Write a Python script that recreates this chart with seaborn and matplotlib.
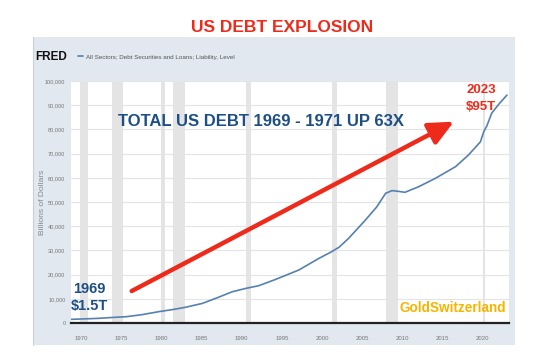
import matplotlib
matplotlib.use("Agg")
import matplotlib.pyplot as plt
import matplotlib.patches as mpatches
import seaborn as sns
import pandas as pd

# ---- data ----
years = [1968.8, 1970.0, 1972.0, 1974.0, 1975.6, 1977.5, 1979.7, 1981.5, 1983.0,
         1985.1, 1987.0, 1988.8, 1990.5, 1992.1, 1994.2, 1997.1, 1999.6, 2001.2,
         2002.1, 2003.3, 2005.4, 2006.8, 2007.9, 2008.7, 2009.5, 2010.3, 2012.0,
         2014.1, 2016.6, 2018.2, 2019.7, 2020.1, 2020.5, 2021.1, 2022.0, 2023.0]
debt = [1530, 1650, 1900, 2300, 2600, 3400, 4700, 5600, 6500,
        8100, 10500, 12900, 14300, 15400, 18000, 21900, 26700, 29500,
        31300, 35000, 42600, 48000, 53600, 54700, 54400, 54000, 56300,
        59800, 64600, 69400, 74900, 79000, 81500, 86700, 90500, 94200]
recession_start = [1969.9, 1973.9, 1980.0, 1981.5, 1990.5, 2001.2, 2007.9, 2020.0]
recession_end = [1970.9, 1975.2, 1980.5, 1982.9, 1991.2, 2001.9, 2009.5, 2020.3]
x_ticks = [1970, 1975, 1980, 1985, 1990, 1995, 2000, 2005, 2010, 2015, 2020]
y_ticks = [0, 10000, 20000, 30000, 40000, 50000, 60000, 70000, 80000, 90000, 100000]
arrow_start = (1976.3, 13200)
arrow_end = (2016.4, 83200)

df = pd.DataFrame({"year": years, "debt": debt})

sns.set_style("white")
plt.rcParams["font.family"] = ["Liberation Sans", "DejaVu Sans"]

W, H = 550, 357
fig = plt.figure(figsize=(5.5, 3.57), dpi=100)
fig.patch.set_facecolor("white")

# FRED panel background
panel = mpatches.Rectangle((33 / W, 1 - 345 / H), (515 - 33) / W, (345 - 37) / H,
                           transform=fig.transFigure, facecolor="#e1e8f0",
                           edgecolor="none", zorder=-5)
fig.patches.append(panel)
fig.add_artist(plt.Line2D([33 / W, 33 / W], [1 - 345 / H, 1 - 37 / H],
                          transform=fig.transFigure, color="#c9d0d8", lw=0.8,
                          zorder=-4))

ax = fig.add_axes([71 / W, 1 - 323 / H, (509 - 71) / W, (323 - 81) / H])
ax.set_zorder(1)
ax.set_facecolor("white")

for s, e in zip(recession_start, recession_end):
    ax.axvspan(s, e, color="#e4e4e4", lw=0, zorder=0.5)

sns.lineplot(data=df, x="year", y="debt", ax=ax, color="#5581b0", lw=1.2, zorder=3)

ax.set_xlim(1968.75, 2023.25)
ax.set_ylim(0, 100000)
ax.set_xticks(x_ticks)
ax.set_yticks(y_ticks)
ax.set_xticklabels([str(t) for t in x_ticks], fontsize=4.3, color="#777777")
ax.set_yticklabels([f"{t:,}" for t in y_ticks], fontsize=4.1, color="#777777")
ax.tick_params(axis="both", length=0)
ax.tick_params(axis="x", pad=9)
ax.tick_params(axis="y", pad=4)
ax.grid(axis="y", color="#e4e4e4", lw=0.8, zorder=0.4)
ax.grid(axis="x", visible=False)
for side in ["top", "right", "left"]:
    ax.spines[side].set_visible(False)
ax.spines["bottom"].set_color("#222222")
ax.spines["bottom"].set_linewidth(1.6)
ax.set_xlabel("")
ax.set_ylabel("Billions of Dollars", fontsize=6, color="#888888")
ax.yaxis.set_label_coords(-0.057, 0.5)

# red arrow
ax.annotate("", xy=arrow_end, xytext=arrow_start,
            arrowprops=dict(arrowstyle="-|>,head_length=0.75,head_width=0.35",
                            color="#ee2a1b", lw=3.2, shrinkA=0, shrinkB=0,
                            mutation_scale=20),
            zorder=5)

def px(x, y):
    return (x / W, 1 - y / H)

# texts
fig.text(*px(282, 27), "US DEBT EXPLOSION", ha="center", va="center",
         fontsize=12.5, fontweight="bold", color="#ee2a1b")
fig.text(*px(35, 57), "FRED", ha="left", va="center", fontsize=8.5,
         fontweight="bold", color="#111111")
fig.add_artist(plt.Line2D([78 / W, 83 / W], [1 - 56 / H, 1 - 56 / H],
                          transform=fig.transFigure, color="#5581b0", lw=1.2))
fig.text(*px(86, 57), "All Sectors; Debt Securities and Loans; Liability, Level",
         ha="left", va="center", fontsize=4.5, color="#555555")
fig.text(*px(118, 121), "TOTAL US DEBT 1969 - 1971 UP 63X", ha="left", va="center",
         fontsize=12, fontweight="bold", color="#1d4f86", zorder=6)
fig.text(*px(73, 289), "1969", ha="left", va="center", fontsize=10.5,
         fontweight="bold", color="#1d4f86", zorder=6)
fig.text(*px(71, 306), "$1.5T", ha="left", va="center", fontsize=10.5,
         fontweight="bold", color="#1d4f86", zorder=6)
fig.text(*px(481, 90), "2023", ha="center", va="center", fontsize=9.5,
         fontweight="bold", color="#ee2a1b", zorder=6)
fig.text(*px(481, 107), "$95T", ha="center", va="center", fontsize=9.5,
         fontweight="bold", color="#ee2a1b", zorder=6)
fig.text(*px(506, 308), "GoldSwitzerland", ha="right", va="center", fontsize=9.8,
         fontweight="bold", color="#f7b500", zorder=6)

fig.savefig("out.png", dpi=100)
